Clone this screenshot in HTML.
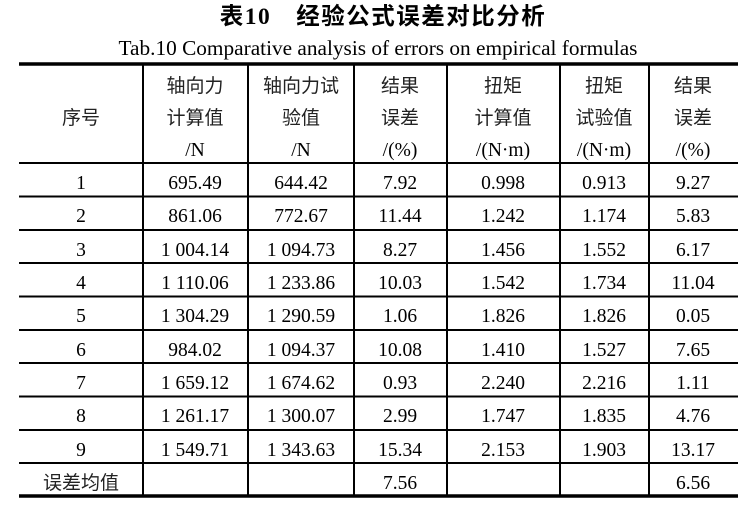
<!DOCTYPE html>
<html><head><meta charset="utf-8"><style>
html,body{margin:0;padding:0;background:#fff;}
svg{display:block}
text{font-family:"Liberation Serif","Noto Serif CJK SC",serif;font-size:19.5px;fill:#000;text-anchor:middle}
.c{font-family:"Liberation Serif","Noto Sans CJK SC",sans-serif;fill:#222;font-size:19px}
</style></head><body>
<svg width="747" height="505" xmlns="http://www.w3.org/2000/svg">
<text x="383" y="24" style="font-family:'Liberation Serif','Noto Sans CJK SC',sans-serif;font-size:23.5px;font-weight:bold;letter-spacing:1.5px">表10　经验公式误差对比分析</text>
<text x="378" y="55" style="font-size:21.3px">Tab.10 Comparative analysis of errors on empirical formulas</text>
<g stroke="#000">
<line x1="19" y1="64" x2="738" y2="64" stroke-width="3.5"/>
<line x1="19" y1="496" x2="738" y2="496" stroke-width="3.5"/>
<g stroke-width="2">
<line x1="19" y1="163" x2="738" y2="163"/>
<line x1="19" y1="196.5" x2="738" y2="196.5"/>
<line x1="19" y1="230" x2="738" y2="230"/>
<line x1="19" y1="263" x2="738" y2="263"/>
<line x1="19" y1="296.5" x2="738" y2="296.5"/>
<line x1="19" y1="330" x2="738" y2="330"/>
<line x1="19" y1="363" x2="738" y2="363"/>
<line x1="19" y1="396.5" x2="738" y2="396.5"/>
<line x1="19" y1="430" x2="738" y2="430"/>
<line x1="19" y1="463" x2="738" y2="463"/>
<line x1="143" y1="64" x2="143" y2="496"/>
<line x1="248" y1="64" x2="248" y2="496"/>
<line x1="354" y1="64" x2="354" y2="496"/>
<line x1="447" y1="64" x2="447" y2="496"/>
<line x1="560" y1="64" x2="560" y2="496"/>
<line x1="649" y1="64" x2="649" y2="496"/>
</g></g>
<g>
<text x="81" y="124" class="c">序号</text>
<text x="195" y="92" class="c">轴向力</text><text x="195" y="124" class="c">计算值</text><text x="195" y="156">/N</text>
<text x="301" y="92" class="c">轴向力试</text><text x="301" y="124" class="c">验值</text><text x="301" y="156">/N</text>
<text x="400" y="92" class="c">结果</text><text x="400" y="124" class="c">误差</text><text x="400" y="156">/(%)</text>
<text x="503" y="92" class="c">扭矩</text><text x="503" y="124" class="c">计算值</text><text x="503" y="156">/(N·m)</text>
<text x="604" y="92" class="c">扭矩</text><text x="604" y="124" class="c">试验值</text><text x="604" y="156">/(N·m)</text>
<text x="693" y="92" class="c">结果</text><text x="693" y="124" class="c">误差</text><text x="693" y="156">/(%)</text>
</g>
<g>
<text x="81" y="189">1</text><text x="195" y="189">695.49</text><text x="301" y="189">644.42</text><text x="400" y="189">7.92</text><text x="503" y="189">0.998</text><text x="604" y="189">0.913</text><text x="693" y="189">9.27</text>
<text x="81" y="222">2</text><text x="195" y="222">861.06</text><text x="301" y="222">772.67</text><text x="400" y="222">11.44</text><text x="503" y="222">1.242</text><text x="604" y="222">1.174</text><text x="693" y="222">5.83</text>
<text x="81" y="256">3</text><text x="195" y="256">1 004.14</text><text x="301" y="256">1 094.73</text><text x="400" y="256">8.27</text><text x="503" y="256">1.456</text><text x="604" y="256">1.552</text><text x="693" y="256">6.17</text>
<text x="81" y="289">4</text><text x="195" y="289">1 110.06</text><text x="301" y="289">1 233.86</text><text x="400" y="289">10.03</text><text x="503" y="289">1.542</text><text x="604" y="289">1.734</text><text x="693" y="289">11.04</text>
<text x="81" y="322">5</text><text x="195" y="322">1 304.29</text><text x="301" y="322">1 290.59</text><text x="400" y="322">1.06</text><text x="503" y="322">1.826</text><text x="604" y="322">1.826</text><text x="693" y="322">0.05</text>
<text x="81" y="356">6</text><text x="195" y="356">984.02</text><text x="301" y="356">1 094.37</text><text x="400" y="356">10.08</text><text x="503" y="356">1.410</text><text x="604" y="356">1.527</text><text x="693" y="356">7.65</text>
<text x="81" y="389">7</text><text x="195" y="389">1 659.12</text><text x="301" y="389">1 674.62</text><text x="400" y="389">0.93</text><text x="503" y="389">2.240</text><text x="604" y="389">2.216</text><text x="693" y="389">1.11</text>
<text x="81" y="422">8</text><text x="195" y="422">1 261.17</text><text x="301" y="422">1 300.07</text><text x="400" y="422">2.99</text><text x="503" y="422">1.747</text><text x="604" y="422">1.835</text><text x="693" y="422">4.76</text>
<text x="81" y="456">9</text><text x="195" y="456">1 549.71</text><text x="301" y="456">1 343.63</text><text x="400" y="456">15.34</text><text x="503" y="456">2.153</text><text x="604" y="456">1.903</text><text x="693" y="456">13.17</text>
<text x="81" y="489" class="c">误差均值</text><text x="400" y="489">7.56</text><text x="693" y="489">6.56</text>
</g>
</svg>
</body></html>
